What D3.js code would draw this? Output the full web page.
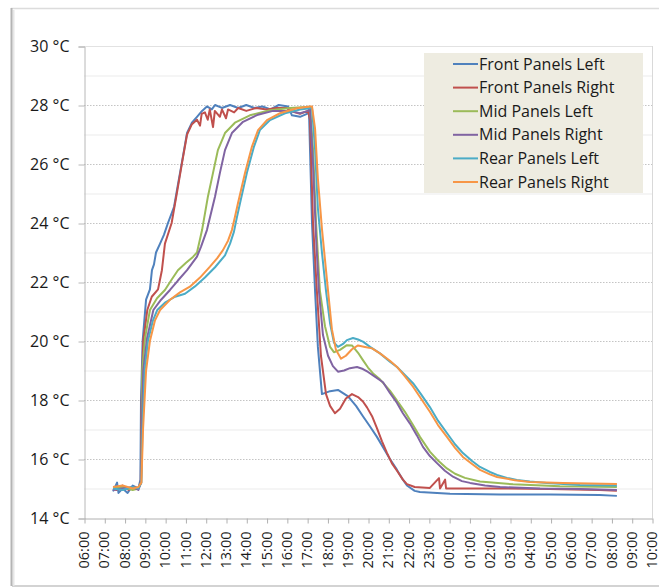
<!DOCTYPE html>
<html>
<head>
<meta charset="utf-8">
<script src="https://cdn.jsdelivr.net/npm/d3@7"></script>
<style>
  html, body { margin: 0; padding: 0; background: #fff; }
  svg { display: block; }
  text { font-family: "Open Sans", "Liberation Sans", sans-serif; fill: #1a1a1a; }
</style>
</head>
<body>
<svg id="chart" width="659" height="588"></svg>
<script>
// Panel temperatures, [hour of day (24+ = next day), °C]
const frontLeft = [[7.43,14.9],[7.63,15.2],[7.7,14.85],[7.9,15.0],[8.15,14.85],[8.4,15.1],[8.68,15.0],[8.78,15.3],[8.81,18.0],[8.89,20.0],[9.06,21.4],[9.25,21.75],[9.35,22.4],[9.45,22.6],[9.55,23.0],[9.75,23.3],[9.94,23.6],[10.14,24.0],[10.44,24.55],[10.63,25.3],[10.82,26.03],[11.08,27.05],[11.32,27.4],[11.57,27.6],[11.82,27.8],[12.06,27.95],[12.3,27.85],[12.46,28.0],[12.8,27.9],[13.2,28.0],[13.6,27.9],[14.0,28.0],[14.4,27.9],[14.8,27.95],[15.2,27.85],[15.6,28.0],[16.06,27.95],[16.25,27.65],[16.65,27.6],[16.99,27.7],[17.09,27.8],[17.24,24.0],[17.39,21.7],[17.53,19.8],[17.73,18.2],[18.13,18.3],[18.52,18.34],[18.96,18.15],[19.11,18.05],[19.41,17.8],[19.75,17.45],[20.10,17.1],[20.44,16.75],[20.74,16.4],[21.08,16.0],[21.43,15.63],[21.72,15.3],[21.92,15.1],[22.3,14.92],[22.56,14.88],[24.04,14.82],[26.51,14.8],[28.97,14.8],[31.43,14.78],[32.27,14.75]];
const frontRight = [[7.43,15.0],[7.6,14.95],[7.9,15.1],[8.2,14.95],[8.45,15.05],[8.68,15.0],[8.80,15.2],[8.84,18.0],[8.92,20.0],[9.12,21.05],[9.34,21.5],[9.65,21.75],[9.84,22.4],[9.99,23.3],[10.32,24.0],[10.60,25.1],[10.83,26.03],[11.08,27.0],[11.32,27.35],[11.57,27.5],[11.72,27.3],[11.8,27.7],[11.96,27.75],[12.1,27.5],[12.2,27.85],[12.36,27.25],[12.45,27.8],[12.7,27.6],[12.8,27.85],[13.0,27.55],[13.1,27.85],[13.4,27.75],[13.6,27.9],[14.0,27.8],[14.5,27.9],[15.0,27.85],[15.5,27.9],[16.0,27.9],[16.15,27.8],[16.65,27.7],[17.04,27.8],[17.14,27.5],[17.29,24.0],[17.48,21.7],[17.68,19.5],[17.93,18.2],[18.13,17.8],[18.37,17.55],[18.62,17.7],[18.91,18.05],[19.21,18.2],[19.51,18.1],[19.75,17.95],[19.95,17.75],[20.20,17.45],[20.44,17.05],[20.69,16.6],[20.94,16.2],[21.18,15.85],[21.43,15.6],[21.72,15.3],[21.92,15.15],[22.3,15.05],[23.05,15.02],[23.5,15.35],[23.55,15.0],[23.8,15.3],[23.85,15.0],[24.04,15.0],[26.51,15.0],[28.97,14.98],[31.43,14.95],[32.27,14.92]];
const midLeft = [[7.43,15.0],[7.9,15.05],[8.4,14.95],[8.68,15.0],[8.81,15.2],[8.85,17],[8.87,19.0],[9.01,20.1],[9.25,21.05],[9.60,21.45],[9.99,21.73],[10.34,22.1],[10.63,22.4],[11.03,22.65],[11.37,22.85],[11.57,23.0],[11.82,23.76],[12.11,24.9],[12.36,25.7],[12.60,26.47],[12.95,27.05],[13.44,27.4],[14.18,27.65],[15.17,27.82],[16.15,27.9],[17.14,27.94],[17.29,26.5],[17.44,24.0],[17.63,21.7],[17.88,20.5],[18.13,19.8],[18.32,19.62],[18.62,19.7],[18.96,19.86],[19.21,19.85],[19.51,19.6],[19.75,19.35],[20.00,19.1],[20.25,18.9],[20.59,18.7],[21.08,18.32],[21.43,17.98],[21.82,17.6],[22.22,17.15],[22.56,16.75],[23.05,16.25],[23.45,15.95],[23.89,15.68],[24.29,15.5],[24.78,15.36],[25.52,15.24],[27.15,15.14],[29.46,15.08],[32.27,15.05]];
const midRight = [[7.43,14.95],[7.9,15.0],[8.4,15.05],[8.68,14.95],[8.81,15.2],[8.85,17],[8.92,19.0],[9.11,20.1],[9.42,21.05],[9.80,21.4],[10.24,21.73],[10.63,22.05],[11.08,22.4],[11.57,22.86],[11.77,23.2],[12.06,23.76],[12.46,24.9],[12.70,25.7],[12.95,26.47],[13.29,27.05],[13.84,27.43],[14.53,27.66],[15.32,27.8],[16.15,27.8],[16.65,27.72],[17.04,27.8],[17.14,27.9],[17.29,26.0],[17.44,23.5],[17.58,21.7],[17.78,20.2],[18.03,19.5],[18.27,19.15],[18.52,18.96],[18.82,19.0],[19.11,19.08],[19.46,19.12],[19.75,19.05],[20.00,18.95],[20.34,18.79],[20.74,18.6],[21.08,18.24],[21.43,17.9],[21.72,17.55],[22.07,17.2],[22.41,16.8],[22.71,16.41],[23.05,16.1],[23.40,15.86],[23.79,15.6],[24.19,15.4],[24.63,15.25],[25.03,15.19],[25.77,15.1],[26.51,15.05],[28.48,15.0],[30.45,14.98],[32.27,14.95]];
const rearLeft = [[7.43,15.0],[7.9,14.95],[8.4,15.05],[8.68,15.0],[8.83,15.2],[8.88,17],[8.99,19.0],[9.15,20.0],[9.40,20.7],[9.61,21.05],[9.99,21.3],[10.49,21.5],[10.98,21.6],[11.47,21.85],[11.96,22.15],[12.46,22.5],[12.95,22.9],[13.20,23.3],[13.39,23.7],[13.54,24.2],[13.69,24.67],[14.03,25.7],[14.38,26.59],[14.67,27.15],[15.17,27.49],[15.91,27.72],[16.65,27.85],[17.24,27.9],[17.39,26.5],[17.53,24.5],[17.73,23.0],[17.93,21.7],[18.13,20.6],[18.32,19.95],[18.52,19.8],[18.77,19.9],[18.96,20.03],[19.26,20.1],[19.51,20.05],[19.75,19.98],[20.10,19.8],[20.59,19.58],[21.08,19.3],[21.43,19.12],[21.82,18.85],[22.22,18.57],[22.61,18.2],[23.05,17.76],[23.45,17.3],[23.89,16.88],[24.29,16.5],[24.68,16.2],[25.13,15.93],[25.52,15.73],[26.01,15.56],[26.36,15.46],[26.85,15.36],[27.34,15.29],[27.98,15.24],[28.82,15.19],[30.45,15.12],[32.27,15.1]];
const rearRight = [[7.43,15.05],[7.9,15.1],[8.4,15.0],[8.68,15.05],[8.83,15.2],[8.91,17],[9.06,19.0],[9.25,20.0],[9.50,20.7],[9.75,21.05],[10.24,21.4],[10.73,21.65],[11.22,21.84],[11.72,22.15],[12.21,22.52],[12.56,22.8],[12.85,23.08],[13.10,23.4],[13.29,23.76],[13.44,24.2],[13.59,24.67],[13.94,25.7],[14.28,26.59],[14.58,27.15],[15.02,27.49],[15.66,27.72],[16.50,27.89],[17.14,27.95],[17.24,27.95],[17.39,27.2],[17.53,25.5],[17.73,23.8],[18.03,21.7],[18.22,20.4],[18.42,19.7],[18.67,19.4],[18.91,19.5],[19.21,19.72],[19.51,19.85],[19.85,19.8],[20.20,19.75],[20.59,19.58],[21.08,19.33],[21.43,19.12],[21.82,18.8],[22.22,18.45],[22.61,18.05],[23.05,17.6],[23.45,17.15],[23.89,16.75],[24.29,16.38],[24.68,16.07],[25.13,15.83],[25.52,15.63],[26.01,15.48],[26.36,15.39],[27.24,15.28],[27.98,15.22],[29.61,15.19],[32.27,15.15]];

const seriesNames = ["Front Panels Left", "Front Panels Right", "Mid Panels Left", "Mid Panels Right", "Rear Panels Left", "Rear Panels Right"];
const seriesData = [frontLeft, frontRight, midLeft, midRight, rearLeft, rearRight];
const seriesColors = ["#4F81BD", "#C0504D", "#9BBB59", "#8064A2", "#4BACC6", "#F79646"];
const hourTicks = d3.range(6, 35);          // 06:00 .. 10:00 next day
const tempTicks = d3.range(14, 31, 2);      // labelled every 2 °C
const tempMinor = d3.range(15, 30, 2);      // unlabelled odd degrees

const svg = d3.select("#chart");
const W = 659, H = 588;
const m = { left: 84, right: 652, top: 46, bottom: 518 };

const x = d3.scaleLinear().domain([6, 34]).range([m.left, m.right]);
const y = d3.scaleLinear().domain([14, 30]).range([m.bottom, m.top]);

const root = svg.append("g");

// chart area frame
root.append("line").attr("x1", 11).attr("x2", W).attr("y1", 8.5).attr("y2", 8.5)
  .attr("stroke", "#dcdcdc").attr("stroke-width", 1.5);
root.append("line").attr("x1", 12).attr("x2", W).attr("y1", 586).attr("y2", 586)
  .attr("stroke", "#c4c4c4").attr("stroke-width", 1.5);
root.append("line").attr("x1", 13.5).attr("x2", 13.5).attr("y1", 10).attr("y2", 586)
  .attr("stroke", "#e6e6e6").attr("stroke-width", 2);
root.append("line").attr("x1", 11.5).attr("x2", 11.5).attr("y1", 8).attr("y2", 586)
  .attr("stroke", "#b4b4b4").attr("stroke-width", 2);

// gridlines
root.append("g").selectAll("line").data(tempMinor).join("line")
  .attr("x1", m.left).attr("x2", m.right)
  .attr("y1", d => y(d) + 0.5).attr("y2", d => y(d) + 0.5)
  .attr("stroke", "#ebebeb").attr("stroke-width", 1);
root.append("g").selectAll("line").data(tempTicks.filter(d => d > 14 && d < 30)).join("line")
  .attr("x1", m.left).attr("x2", m.right)
  .attr("y1", d => y(d) + 0.5).attr("y2", d => y(d) + 0.5)
  .attr("stroke", "#c4c4c4").attr("stroke-width", 1.2).attr("stroke-dasharray", "1.5,1.5");

// plot border (top, right)
root.append("line").attr("x1", m.left).attr("x2", m.right).attr("y1", m.top + 0.5).attr("y2", m.top + 0.5)
  .attr("stroke", "#e2e2e2");
root.append("line").attr("x1", m.right + 0.5).attr("x2", m.right + 0.5).attr("y1", m.top).attr("y2", m.bottom)
  .attr("stroke", "#d9d9d9");

// y axis
const yAxis = root.append("g").attr("transform", `translate(${m.left + 0.5},0.5)`)
  .call(d3.axisLeft(y).tickValues(tempTicks).tickSize(6).tickPadding(9).tickFormat(d => d + " °C"));
yAxis.select(".domain").attr("stroke", "#b8b8b8");
yAxis.selectAll(".tick line").attr("stroke", "#b8b8b8");
yAxis.selectAll(".tick text").attr("font-size", 16).attr("fill", "#1a1a1a")
  .attr("font-family", "'Open Sans', sans-serif").attr("font-weight", 500);

// x axis
const xAxis = root.append("g").attr("transform", `translate(0.5,${m.bottom + 0.5})`)
  .call(d3.axisBottom(x).tickValues(hourTicks).tickSize(5).tickSizeOuter(0)
    .tickFormat(d => String(d % 24).padStart(2, "0") + ":00"));
xAxis.select(".domain").attr("stroke", "#b0b0b0");
xAxis.selectAll(".tick line").attr("stroke", "#b0b0b0");
xAxis.selectAll(".tick text")
  .attr("font-size", 14.5).attr("fill", "#1a1a1a").attr("font-family", "'Open Sans', sans-serif")
  .attr("font-weight", 500)
  .attr("text-anchor", "end").attr("dy", "0.32em")
  .attr("transform", "translate(-0.5,4) rotate(-90)").attr("x", -9).attr("y", 0);

// series lines
const line = d3.line().x(d => x(d[0])).y(d => y(d[1]));
const plot = root.append("g");
seriesData.forEach((data, i) => {
  plot.append("path").datum(data)
    .attr("fill", "none").attr("stroke", seriesColors[i])
    .attr("stroke-width", 2).attr("stroke-linejoin", "round")
    .attr("d", line);
});

// legend
const legend = root.append("g").attr("transform", "translate(424,53)");
legend.append("rect").attr("width", 219).attr("height", 140).attr("fill", "#EEECE1");
seriesNames.forEach((name, i) => {
  const row = legend.append("g").attr("transform", `translate(0,${11 + i * 23.6})`);
  row.append("line").attr("x1", 29).attr("x2", 54).attr("y1", 0).attr("y2", 0)
    .attr("stroke", seriesColors[i]).attr("stroke-width", 2);
  row.append("text").attr("x", 55).attr("y", 0).attr("dy", "0.35em")
    .attr("font-size", 16).attr("font-weight", 500).attr("fill", "#1a1a1a").text(name);
});
</script>
</body>
</html>
